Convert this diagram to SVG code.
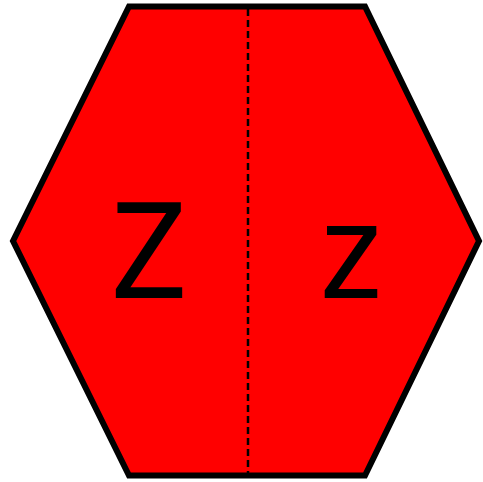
<svg xmlns="http://www.w3.org/2000/svg" width="483" height="482" viewBox="0 0 483 482">
<style>
.hex{fill:#ff0000;stroke:#000;stroke-width:6;stroke-linejoin:miter}
.div{stroke:#000;stroke-width:2.5;stroke-dasharray:7 4;fill:none}
.lbl{font-family:"Noto Sans",sans-serif;font-size:134px;fill:#000;text-anchor:middle}
</style>
<g id="hexagon">
<polygon class="hex" points="129,6.5 365,6.5 479,241 365,475.5 129,475.5 13,241"/>
</g>
<g id="connectors">
<line class="div" x1="248" y1="9" x2="248" y2="473"/>
</g>
<g id="label-Z"><text class="lbl" x="149" y="298">Z</text></g>
<g id="label-z"><text class="lbl" x="351" y="298">z</text></g>
</svg>
